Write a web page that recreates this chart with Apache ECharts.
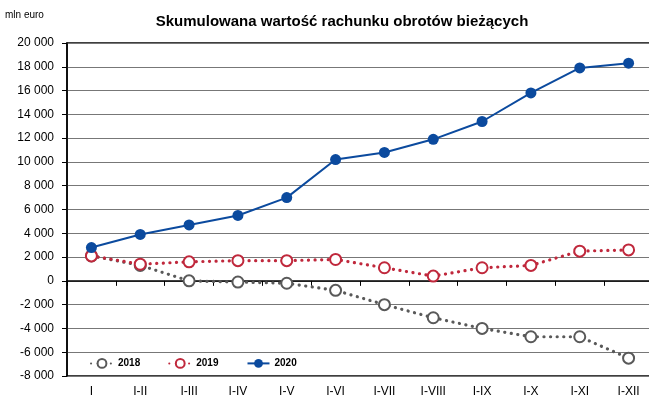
<!DOCTYPE html>
<html>
<head>
<meta charset="utf-8">
<script src="https://cdn.jsdelivr.net/npm/echarts@6/dist/echarts.min.js"></script>
<style>
  html, body { margin: 0; padding: 0; background: #fff; }
  #chart { width: 649px; height: 401px; }
</style>
</head>
<body>
<div id="chart"></div>
<script>
const categories = ['I', 'I-II', 'I-III', 'I-IV', 'I-V', 'I-VI', 'I-VII', 'I-VIII', 'I-IX', 'I-X', 'I-XI', 'I-XII']
const values2018 = [2100, 1300, 0, -100, -200, -800, -2000, -3100, -4000, -4700, -4700, -6500]
const values2019 = [2100, 1400, 1600, 1700, 1700, 1800, 1100, 400, 1100, 1300, 2500, 2600]
const values2020 = [2800, 3900, 4700, 5500, 7000, 10200, 10800, 11900, 13400, 15800, 17900, 18300]

const font = "'Liberation Sans Narrow', 'Liberation Sans', Arial, sans-serif"

const myChart = echarts.init(document.getElementById('chart'))

function dottedSeries(name, data, color) {
  return {
    name: name,
    type: 'line',
    xAxisIndex: 0,
    data: data,
    symbol: 'circle',
    symbolSize: 11,
    itemStyle: { color: '#fff', borderColor: color, borderWidth: 2 },
    lineStyle: { color: color, width: 3.2, type: [0.1, 6.5], cap: 'round' },
    emphasis: { disabled: true }
  }
}

let option = {
  animation: false,
  title: {
    text: 'Skumulowana wartość rachunku obrotów bieżących',
    left: 337,
    textAlign: 'center',
    top: 9,
    textStyle: { fontFamily: font, fontSize: 15, fontWeight: 'bold', color: '#000' }
  },
  graphic: [{
    type: 'text',
    left: 5,
    top: 10,
    style: { text: 'mln euro', font: '10px ' + font, fill: '#000' }
  }],
  legend: {
    left: 85,
    top: 353,
    itemWidth: 22,
    itemHeight: 11,
    itemGap: 28,
    textStyle: { fontFamily: font, fontSize: 10, fontWeight: 'bold', color: '#000' },
    data: ['2018', '2019', '2020']
  },
  grid: {
    left: 67,
    right: -4,
    top: 43,
    bottom: 25,
    outerBoundsMode: 'none',
    show: true,
    borderColor: '#000',
    borderWidth: 1.5
  },
  xAxis: [
    {
      type: 'category',
      data: categories,
      position: 'bottom',
      axisLine: { onZero: true, lineStyle: { color: '#000', width: 1.5 } },
      axisTick: { show: true, length: 5, lineStyle: { color: '#000' } },
      axisLabel: { show: false }
    },
    {
      type: 'category',
      data: categories,
      position: 'bottom',
      axisLine: { show: false, onZero: false },
      axisTick: { show: false },
      axisLabel: { fontFamily: font, fontSize: 12, color: '#000', margin: 10 }
    }
  ],
  yAxis: {
    type: 'value',
    min: -8000,
    max: 20000,
    interval: 2000,
    axisLine: { show: true, lineStyle: { color: '#000', width: 1.5 } },
    axisTick: { show: true, length: 5, lineStyle: { color: '#000' } },
    splitLine: { lineStyle: { color: '#777', width: 1.2 } },
    axisLabel: {
      fontFamily: font,
      fontSize: 12,
      color: '#000',
      margin: 13,
      formatter: v => String(v).replace(/\B(?=(\d{3})+(?!\d))/g, ' ')
    }
  },
  series: [
    dottedSeries('2018', values2018, '#595959'),
    dottedSeries('2019', values2019, '#C0283C'),
    {
      name: '2020',
      type: 'line',
      xAxisIndex: 0,
      data: values2020,
      symbol: 'circle',
      symbolSize: 11,
      itemStyle: { color: '#0B4A9E' },
      lineStyle: { color: '#0B4A9E', width: 2 },
      emphasis: { disabled: true }
    }
  ]
}
myChart.setOption(option)
</script>
</body>
</html>
